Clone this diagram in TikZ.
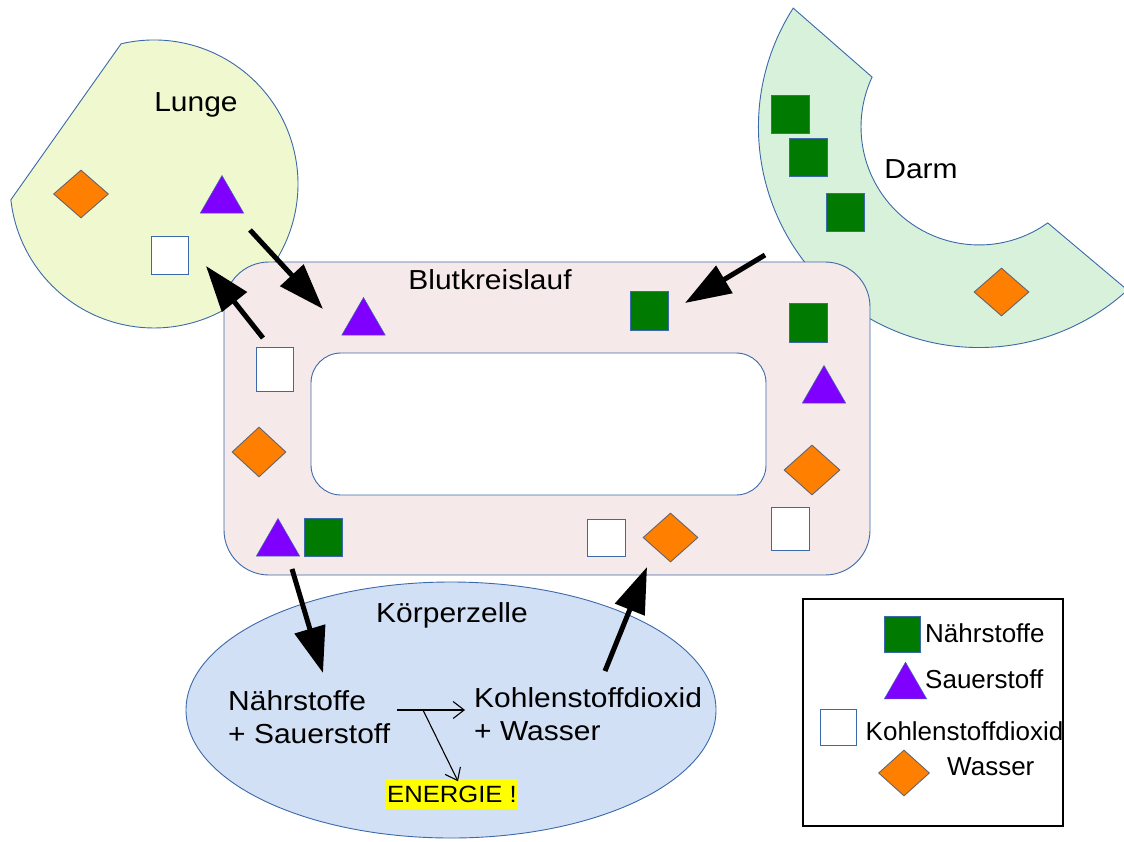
\documentclass[tikz,border=0pt]{standalone}
\usepackage{fontspec}
\setmainfont{Liberation Sans}[FakeStretch=1.09]
\newfontfamily\legfont{Liberation Sans}
\usetikzlibrary{shapes.geometric,arrows.meta}
\definecolor{edge}{RGB}{60,105,170}
\definecolor{lungfill}{RGB}{240,248,208}
\definecolor{darmfill}{RGB}{216,241,219}
\definecolor{blutfill}{RGB}{246,233,233}
\definecolor{zellfill}{RGB}{210,224,245}
\definecolor{ngreen}{RGB}{0,122,0}
\definecolor{purp}{RGB}{127,0,255}
\definecolor{orng}{RGB}{255,128,0}
\definecolor{diaedge}{RGB}{100,100,110}
\definecolor{hilite}{RGB}{255,255,0}
\begin{document}
\begin{tikzpicture}[x=1pt,y=1pt,yscale=-1,
  region/.style={draw=edge,line width=0.9pt},
  lbl/.style={font=\fontsize{27.5}{33}\selectfont,inner sep=0pt,anchor=base},
  leg/.style={font=\legfont\fontsize{26}{30}\selectfont,inner sep=0pt,anchor=base west},
  gsq/.style={rectangle,draw=edge,fill=ngreen,line width=0.7pt,minimum width=38pt,minimum height=38pt,inner sep=0pt},
  wsq/.style={rectangle,draw=edge,fill=white,line width=1pt,minimum width=37pt,minimum height=38pt,inner sep=0pt},
  tri/.style={regular polygon,regular polygon sides=3,draw=edge,fill=purp,line width=0.5pt,minimum size=50pt,inner sep=0pt},
  dia/.style={diamond,draw=diaedge,fill=orng,line width=0.9pt,minimum width=55pt,minimum height=50pt,inner sep=0pt},
  bigarrow/.style={line width=5pt,-{Triangle[length=46pt,width=31pt]}},
  thinarrow/.style={line width=1.1pt,-{Straight Barb[length=11pt,width=17pt]}}
]
\useasboundingbox (0,0) rectangle (1124,841);
\fill[white] (0,0) rectangle (1124,841);

% Lunge
\filldraw[region,fill=lungfill] (121.1,43.8) arc[start angle=256.8,end angle=533.7,radius=144] -- cycle;
% Darm
\begin{scope}
\clip (0,0) rectangle (1124,841);
\filldraw[region,fill=darmfill] (793.2,8.1) arc[start angle=212.6,end angle=47.7,radius=220.6]
  -- (1047.7,222.9) arc[start angle=54.4,end angle=205,radius=118] -- cycle;
\end{scope}

% Blutkreislauf
\node[region,fill=blutfill,rounded corners=45pt,minimum width=646pt,minimum height=313pt,inner sep=0pt] (blut) at (547,418.5) {};
\node[region,fill=white,rounded corners=30pt,minimum width=455pt,minimum height=142pt,inner sep=0pt] (innen) at (538.5,424) {};

% Koerperzelle
\node[region,ellipse,fill=zellfill,minimum width=530pt,minimum height=256pt,inner sep=0pt] (zelle) at (451,710) {};

% markers Lunge
\node[dia,minimum width=55pt,minimum height=48pt] (ldia) at (81,194) {};
\node[tri] (ltri) at (222,200.5) {};
\node[wsq] (lsq) at (170,255.5) {};
% markers Darm
\node[gsq] (dg1) at (790,114) {};
\node[gsq] (dg2) at (808.5,157) {};
\node[gsq] (dg3) at (845.5,212) {};
\node[dia,minimum width=55pt,minimum height=48pt] (ddia) at (1001.5,292) {};
% markers Blut
\node[tri] (bt1) at (363.5,322.5) {};
\node[wsq,minimum height=44pt] (bw1) at (274.5,369) {};
\node[dia,minimum width=54pt] (bd1) at (259,452) {};
\node[tri] (bt2) at (278,543.5) {};
\node[gsq] (bg1) at (323,537) {};
\node[wsq,minimum width=38pt,minimum height=37pt] (bw2) at (606,537.5) {};
\node[dia,minimum height=49pt] (bd2) at (670.5,537.5) {};
\node[wsq,minimum width=38pt,minimum height=43pt] (bw3) at (790,528.5) {};
\node[dia,minimum width=56pt] (bd3) at (812,470) {};
\node[tri] (bt3) at (824,390.5) {};
\node[gsq,minimum height=39pt] (bg2) at (808.5,322.5) {};
\node[gsq,minimum height=39pt] (bg3) at (649,310.5) {};

% labels
\node[lbl] (lungelbl) at (196,111) {Lunge};
\node[lbl] (darmlbl) at (921,178) {Darm};
\node[lbl] (blutlbl) at (490,289) {Blutkreislauf};
\node[lbl] (zellelbl) at (452,622) {Körperzelle};
\node[lbl,anchor=base west,align=left] (edukt) at (228,743) {Nährstoffe\\+ Sauerstoff};
\node[lbl,anchor=base west,align=left] (produkt) at (474,740) {Kohlenstoffdioxid\\+ Wasser};
\node[fill=hilite,font=\fontsize{23.5}{28}\selectfont,inner xsep=1.5pt,inner ysep=6.5pt,text height=17pt,text depth=0pt,anchor=base] (energie) at (452,802) {ENERGIE !};

% legend
\node[draw=black,line width=1.3pt,fill=white,minimum width=260pt,minimum height=227pt,inner sep=0pt] (legende) at (933,712.5) {};
\node[gsq,minimum width=36pt,minimum height=36pt] (lgsq) at (902,634) {};
\node[leg] (lgtxt) at (925,642) {Nährstoffe};
\node[tri,minimum size=49pt] (lgtri) at (905.5,686.7) {};
\node[leg] (lttxt) at (925,688.5) {Sauerstoff};
\node[wsq,minimum width=36pt,minimum height=36pt] (lwsq) at (838,727) {};
\node[leg] (lwtxt) at (865.5,740) {Kohlenstoffdioxid};
\node[dia,minimum width=51pt,minimum height=46pt] (ldia2) at (904,773) {};
\node[leg] (ldtxt) at (947,775) {Wasser};

% thick arrows
\coordinate (l1) at (250,230);
\coordinate (b1) at (323,309);
\coordinate (b2) at (263,338);
\coordinate (l2) at (206,266);
\coordinate (d1) at (765,255);
\coordinate (b3) at (685,303);
\coordinate (b4) at (292,569);
\coordinate (z1) at (323,673);
\coordinate (z2) at (605,671);
\coordinate (b5) at (647,567);
\draw[bigarrow] (l1) -- (b1);
\draw[bigarrow] (b2) -- (l2);
\draw[bigarrow] (d1) -- (b3);
\draw[bigarrow] (b4) -- (z1);
\draw[bigarrow] (z2) -- (b5);

% reaction arrows
\coordinate (rs) at (397,710);
\coordinate (rsplit) at (423,710);
\draw[thinarrow,shorten >=9pt] (rs) -- (produkt.west |- rs);
\draw[thinarrow] (rsplit) -- ([xshift=6pt,yshift=3pt]energie.north);
\end{tikzpicture}
\end{document}
